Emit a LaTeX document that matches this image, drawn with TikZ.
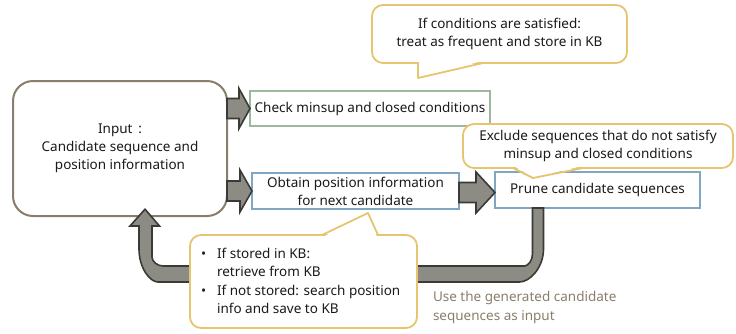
\documentclass[tikz,border=0pt]{standalone}
\usepackage{fontspec}
\setmainfont{Noto Sans}
\usetikzlibrary{calc}

\definecolor{inputline}{HTML}{8B7D6B}
\definecolor{checkline}{HTML}{9DB89D}
\definecolor{stepline}{HTML}{7FA6C2}
\definecolor{noteline}{HTML}{E6C56E}
\definecolor{arrowfill}{HTML}{8C8C84}
\definecolor{arrowline}{HTML}{3A3A36}
\definecolor{remark}{HTML}{8B7D6B}
\definecolor{textdark}{HTML}{1A1A1A}

\begin{document}
\begin{tikzpicture}[x=1pt,y=-1pt,
  every node/.style={font=\fontsize{13.5}{18}\selectfont, text=textdark, outer sep=0pt},
  inbox/.style={draw=inputline, line width=2pt, fill=white, rounded corners=20pt,
    inner sep=0pt, align=center},
  stepbox/.style={draw=#1, line width=1.8pt, fill=white, inner sep=0pt, align=center},
  note/.style={draw=noteline, line width=1.8pt, fill=white, rounded corners=11pt,
    inner sep=0pt, align=center},
  pointerline/.style={draw=noteline, line width=1.8pt, line join=round},
  blockarr/.style={fill=arrowfill, draw=arrowline, line width=1.6pt, line join=miter},
]
\useasboundingbox (0,0) rectangle (736,333);

% process boxes
\node[inbox, minimum width=214pt, minimum height=135pt] (input) at (120,148.5)
  {Input\ \,:\\Candidate sequence and\\position information};
\node[stepbox=checkline, minimum width=240pt, minimum height=35pt] (check) at (370,108.5)
  {Check minsup and closed conditions};
\node[stepbox=stepline, minimum width=207pt, minimum height=36pt] (obtain) at (355.5,191)
  {Obtain position information\\for next candidate};
\node[stepbox=stepline, minimum width=205pt, minimum height=36pt] (prune) at (597.5,190)
  {Prune candidate sequences};

% block arrows between the boxes
\draw[blockarr] let \p1=(input.east), \p2=(check.west) in
  (\x1,\y2+10pt) -- (\x2-11pt,\y2+10pt) -- (\x2-11pt,\y2+20pt) -- (\x2,\y2)
  -- (\x2-11pt,\y2-20pt) -- (\x2-11pt,\y2-10pt) -- (\x1,\y2-10pt) -- cycle;
\draw[blockarr] let \p1=(input.east), \p2=(obtain.west) in
  (\x1,\y2+10pt) -- (\x2-12pt,\y2+10pt) -- (\x2-12pt,\y2+21pt) -- (\x2,\y2)
  -- (\x2-12pt,\y2-21pt) -- (\x2-12pt,\y2-10pt) -- (\x1,\y2-10pt) -- cycle;
\draw[blockarr] let \p1=(obtain.east), \p2=(prune.west) in
  (\x1,\y2+7.5pt) -- (\x2-19pt,\y2+7.5pt) -- (\x2-19pt,\y2+18pt) -- (\x2,\y2-2.5pt)
  -- (\x2-19pt,\y2-23pt) -- (\x2-19pt,\y2-12.5pt) -- (\x1,\y2-12.5pt) -- cycle;

% feedback arrow from the pruning step back to the input
\coordinate (loopR) at ($(prune.south west)+(43,0)$);
\coordinate (loopL) at ($(input.south)+(25.5,0)$);
\draw[blockarr] let \p1=(loopR), \p2=(loopL) in
  (\x1+5.5pt,\y1) -- (\x1+5.5pt,\y1-41pt)
  .. controls (\x1+5.5pt,\y1-59.4pt) and (\x1-8pt,\y1-74pt) .. (\x1-18.5pt,\y1-74pt)
  -- (\x2+12.5pt,\y1-74pt)
  .. controls (\x2+4pt,\y1-74pt) and (\x2-6.5pt,\y1-59.4pt) .. (\x2-6.5pt,\y1-41pt)
  -- (\x2-6.5pt,\y2-10pt) -- (\x2-15.5pt,\y2-10pt) -- (\x2-0.5pt,\y2+6.8pt)
  -- (\x2+14pt,\y2-10pt) -- (\x2+6.5pt,\y2-10pt) -- (\x2+6.5pt,\y1-49pt)
  .. controls (\x2+6.5pt,\y1-54pt) and (\x2+12.5pt,\y1-58pt) .. (\x2+17.5pt,\y1-58pt)
  -- (\x1-13.5pt,\y1-58pt)
  .. controls (\x1-9.9pt,\y1-58pt) and (\x1-5.5pt,\y1-52.6pt) .. (\x1-5.5pt,\y1-46pt)
  -- (\x1-5.5pt,\y1) -- cycle;

% callouts
\node[note, minimum width=255pt, minimum height=58pt] (topnote) at (499.5,34)
  {If conditions are satisfied:\\treat as frequent and store in KB};
\fill[white] ($(topnote.south west)+(47,-2)$) -- ($(topnote.south west)+(47,15)$)
  -- ($(topnote.south west)+(110,-2)$) -- cycle;
\draw[pointerline] ($(topnote.south west)+(46,0)$) -- ($(topnote.south west)+(46,15)$)
  -- ($(topnote.south west)+(111,0)$);

\node[note, minimum width=270pt, minimum height=44pt] (exclnote) at (598,146)
  {Exclude sequences that do not satisfy\\minsup and closed conditions};
\fill[white] ($(exclnote.south west)+(51,-2)$) -- ($(exclnote.south west)+(70,10)$)
  -- ($(exclnote.south west)+(119,-2)$) -- cycle;
\draw[pointerline] ($(exclnote.south west)+(50,0)$) -- ($(exclnote.south west)+(70,10)$)
  -- ($(exclnote.south west)+(120,0)$);

\node[note, minimum width=227pt, minimum height=93pt] (kbnote) at (303.5,281.5) {};
\fill[white] ($(kbnote.north west)+(133,2)$) -- ($(kbnote.north west)+(178,-22)$)
  -- ($(kbnote.north west)+(187,2)$) -- cycle;
\draw[pointerline] ($(kbnote.north west)+(132,0)$) -- ($(kbnote.north west)+(178,-22)$)
  -- ($(kbnote.north west)+(188,0)$);
\node[anchor=west, inner sep=0pt, font=\fontsize{13.5}{18.5}\selectfont] (kbtext)
  at ($(kbnote.west)+(11,1)$)
  {\begin{tabular}{@{}l@{\hspace{11pt}}l@{}}
   \textbullet & If stored in KB:\\
               & retrieve from KB\\
   \textbullet & If not stored: search position\\
               & info and save to KB
   \end{tabular}};

\node[anchor=west, align=left, inner sep=0pt, text=remark,
  font=\fontsize{13.5}{19}\selectfont] (reuse) at (433,307.5)
  {Use the generated candidate\\sequences as input};
\end{tikzpicture}
\end{document}
